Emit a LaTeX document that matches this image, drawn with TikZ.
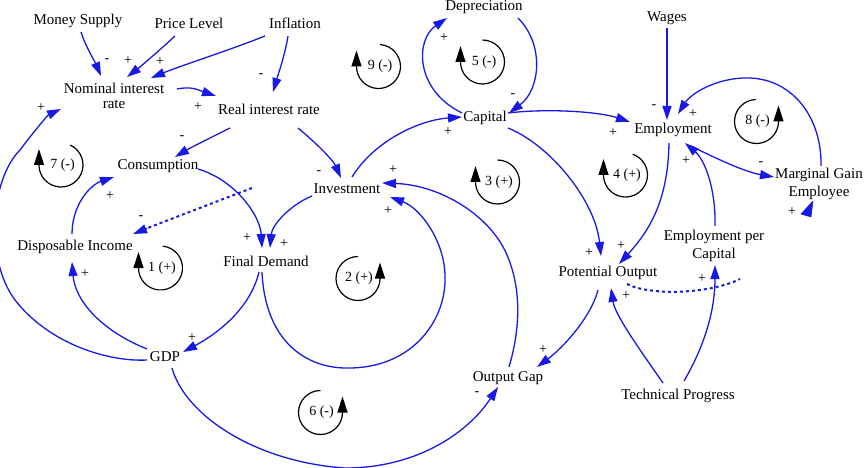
\documentclass[tikz,border=0pt]{standalone}
\usepackage{fontspec}
\setmainfont{Liberation Serif}
\usetikzlibrary{arrows.meta,calc}
\definecolor{lnk}{RGB}{25,25,230}
\newcommand\cwloop[4]{%
  \node[lp] (#1) at ($#2+(1.5,0)$) {#4};
  \draw[loopl] ($#2+(#3:22)$) arc[start angle=#3, end angle=180, radius=22] -- ++(0,-16);}
\newcommand\ccwloop[4]{%
  \node[lp] (#1) at ($#2+(1,0)$) {#4};
  \draw[loopl] ($#2+(#3:22)$) arc[start angle=#3, end angle=0, radius=22] -- ++(0,-16);}
\begin{document}
\begin{tikzpicture}[x=1pt,y=-1pt,
  var/.style={font=\fontsize{15}{15}\selectfont, inner sep=0pt, align=center},
  link/.style={draw=lnk, line width=1.3pt, -{Triangle[length=14pt,width=9pt]}},
  dotlink/.style={draw=lnk, line width=2pt, dash pattern=on 3pt off 3pt},
  pol/.style={font=\fontsize{14}{14}\selectfont, inner sep=0pt},
  lp/.style={font=\fontsize{14}{14}\selectfont, inner sep=0pt},
  loopl/.style={line width=1.2pt, black, -{Triangle[length=16pt,width=10pt]}}]
\useasboundingbox (0,0) rectangle (868,468);

% variables
\node[var] (ms) at (78,21) {Money Supply};
\node[var] (pl) at (189,23) {Price Level};
\node[var] (inf) at (295,23) {Inflation};
\node[var] (nir) at (114,96) {Nominal interest\\rate};
\node[var] (rir) at (269,109) {Real interest rate};
\node[var] (dep) at (484,7) {Depreciation};
\node[var] (wag) at (667,18) {Wages};
\node[var] (cap) at (485,118) {Capital};
\node[var] (emp) at (673,130) {Employment};
\node[var, font=\fontsize{15}{17.5}\selectfont] (mge) at (819,184) {Marginal Gain\\Employee};
\node[var] (con) at (158,166) {Consumption};
\node[var] (inv) at (347,189) {Investment};
\node[var] (di) at (75,247) {Disposable Income};
\node[var] (fd) at (266,261) {Final Demand};
\node[var] (po) at (608,273) {Potential Output};
\node[var, font=\fontsize{15}{17.5}\selectfont] (epc) at (714,246) {Employment per\\Capital};
\node[var] (gdp) at (165,357) {GDP};
\node[var] (og) at (508,378) {Output Gap};
\node[var] (tp) at (678,396) {Technical Progress};

% links
\draw[link] ($(ms)+(3,11)$) .. controls (85,45) and (95,62) .. ($(nir)+(-13,-20)$);
\draw[link] ($(pl)+(-14,13)$) .. controls (160,50) and (140,67) .. ($(nir)+(13,-19)$);
\draw[link] ($(inf)+(-30,13)$) .. controls (230,50) and (180,66) .. ($(nir)+(37,-18)$);
\draw[link] ($(inf)+(-7,13)$) .. controls (285,55) and (278,75) .. ($(rir)+(4,-17)$);
\draw[link] ($(nir)+(63,-7)$) .. controls (192,86) and (198,90) .. ($(rir)+(-53,-13)$);
\draw[link] ($(rir)+(-39,19)$) .. controls (210,138) and (190,148) .. ($(con)+(17,-9)$);
\draw[link] ($(rir)+(29,19)$) .. controls (315,142) and (333,160) .. ($(inv)+(-6,-11)$);
\draw[link] ($(con)+(40,3)$) .. controls (235,180) and (260,215) .. ($(fd)+(-4,-13)$);
\draw[link] ($(inv)+(-35,7)$) .. controls (290,205) and (272,225) .. ($(fd)+(4,-13)$);
\draw[link] ($(fd)+(-7,11)$) .. controls (250,310) and (215,335) .. ($(gdp)+(18,-5)$);
\draw[link] ($(fd)+(-4,11)$) .. controls (265,340) and (305,370) .. (352,368)
   .. controls (415,366) and (447,318) .. (445,275)
   .. controls (444,240) and (420,208) .. ($(inv)+(43,8)$);
\draw[link] ($(og)+(1,-11)$) .. controls (520,330) and (522,290) .. (507,255)
   .. controls (490,215) and (440,185) .. ($(inv)+(35,-6)$);
\draw[link] ($(gdp)+(-18,-8)$) .. controls (100,330) and (75,300) .. ($(di)+(-3,15)$);
\draw[link] ($(di)+(-3,-13)$) .. controls (72,205) and (90,185) .. ($(con)+(-44,11)$);
\coordinate (d1) at (252,188);
\draw[dotlink] (d1) -- ($(di)+(70,-18)$);
\draw[link] ($(di)+(72,-18.5)$) -- ($(di)+(58,-13)$);
\draw[link] ($(gdp)+(-18,3)$) .. controls (110,362) and (50,345) .. (15,300)
   .. controls (-15,260) and (-10,180) .. (20,150)
   .. controls (35,130) and (48,115) .. ($(nir)+(-53,13)$);
\draw[link] ($(gdp)+(7,11)$) .. controls (185,415) and (255,462) .. (345,468)
   .. controls (420,468) and (470,430) .. ($(og)+(-10,9)$);
\draw[link] ($(po)+(-10,17)$) .. controls (590,320) and (560,350) .. ($(og)+(29,-11)$);
\draw[link] ($(tp)+(-15,-13)$) .. controls (640,350) and (615,315) .. ($(po)+(3,15)$);
\draw[link] ($(tp)+(6,-15)$) .. controls (705,345) and (715,310) .. ($(epc)+(1,19)$);
\coordinate (d2) at (740,279);
\draw[dotlink] ($(po)+(19,11)$) .. controls (650,296) and (710,294) .. (d2);
\draw[link] ($(epc)+(1,-20)$) .. controls (716,190) and (705,160) .. ($(emp)+(12,13)$);
\draw[link] ($(emp)+(18,16)$) .. controls (715,158) and (745,172) .. ($(mge)+(-45,-7)$);
\draw[link] ($(mge)+(2,-18)$) .. controls (822,120) and (795,80) .. (750,78)
   .. controls (715,77) and (690,95) .. ($(emp)+(5,-16)$);
\coordinate (s1) at (813,201);
\coordinate (s2) at (801,214);
\coordinate (s3) at (811,217);
\fill[fill=lnk, draw=lnk, line width=0.6pt, line join=round] (s1) -- (s2) -- (s3) -- cycle;
\draw[link] ($(wag)+(0,10)$) -- ($(emp)+(-6,-10)$);
\draw[link] ($(cap)+(23,-5)$) .. controls (550,108) and (600,112) .. ($(emp)+(-43,-8)$);
\draw[link] ($(cap)+(23,10)$) .. controls (550,145) and (595,200) .. ($(po)+(-7,-17)$);
\draw[link] ($(emp)+(-4,13)$) .. controls (668,200) and (650,230) .. ($(po)+(11,-9)$);
\draw[link] ($(inv)+(5,-12)$) .. controls (375,140) and (420,120) .. ($(cap)+(-23,-1)$);
\draw[link] ($(cap)+(-23,-5)$) .. controls (415,90) and (415,40) .. ($(dep)+(-37,11)$);
\draw[link] ($(dep)+(34,11)$) .. controls (545,45) and (540,90) .. ($(cap)+(24,-5)$);

% polarities
\node[pol] at (107,61) {-};
\node[pol] at (128,61) {+};
\node[pol] at (160,62) {+};
\node[pol] at (261,76) {-};
\node[pol] at (198,107) {+};
\node[pol] at (182,138) {-};
\node[pol] at (319,173) {-};
\node[pol] at (247,238) {+};
\node[pol] at (284,244) {+};
\node[pol] at (192,338) {+};
\node[pol] at (388,211) {+};
\node[pol] at (393,170) {+};
\node[pol] at (85,274) {+};
\node[pol] at (110,196) {+};
\node[pol] at (141,218) {-};
\node[pol] at (41,108) {+};
\node[pol] at (477,394) {-};
\node[pol] at (543,350) {+};
\node[pol] at (626,296) {+};
\node[pol] at (702,279) {+};
\node[pol] at (686,161) {+};
\node[pol] at (761,164) {-};
\node[pol] at (693,114) {+};
\node[pol] at (792,212) {+};
\node[pol] at (654,107) {-};
\node[pol] at (613,133) {+};
\node[pol] at (589,253) {+};
\node[pol] at (621,246) {+};
\node[pol] at (448,132) {+};
\node[pol] at (444,38) {+};
\node[pol] at (513,96) {-};

% loop markers
\cwloop{l9}{(378.5,66.5)}{-86}{9 (-)}
\cwloop{l5}{(482.5,62)}{-90}{5 (-)}
\cwloop{l7}{(61,165)}{-65}{7 (-)}
\cwloop{l1}{(160.5,268)}{-84}{1 (+)}
\cwloop{l3}{(497.5,182)}{-90}{3 (+)}
\cwloop{l4}{(625.5,175)}{-71}{4 (+)}
\ccwloop{l8}{(756.5,121.5)}{268}{8 (-)}
\ccwloop{l2}{(358,278.5)}{270}{2 (+)}
\ccwloop{l6}{(320.5,412.5)}{270}{6 (-)}
\end{tikzpicture}
\end{document}
